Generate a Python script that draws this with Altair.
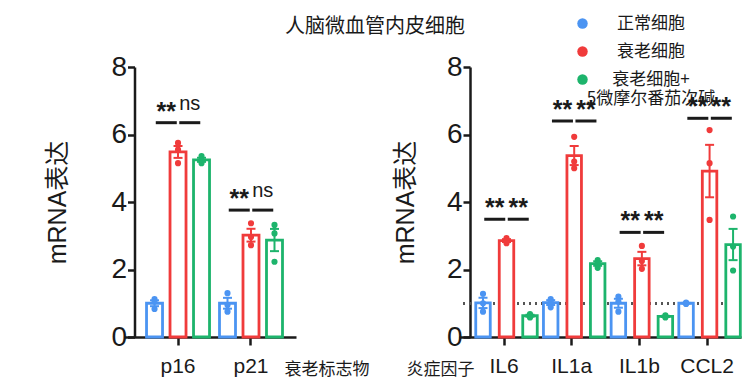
import altair as alt
import pandas as pd

# Treatment groups and their colours
GROUPS = ["正常细胞", "衰老细胞", "衰老细胞+5微摩尔番茄次碱"]
COLORS = ["#4B94F2", "#F03B3B", "#1DB46C"]
# Offset slots inside each gene: bars sit on the group slots,
# comparison bars sit on the in-between slots
SLOTS = [GROUPS[0], "c1", GROUPS[1], "c2", GROUPS[2]]

# Senescence markers (three replicates per group)
markers = ["p16", "p21"]
marker_reps = {
    "p16": [[1.12, 1.05, 0.83], [5.75, 5.55, 5.15], [5.36, 5.24, 5.15]],
    "p21": [[1.30, 0.95, 0.75], [3.37, 2.96, 2.72], [3.32, 3.07, 2.23]],
}
marker_sig_y = [6.35, 3.76]
marker_sig_text = [["**", "ns"], ["**", "ns"]]

# Inflammatory factors (three replicates per group)
cytokines = ["IL6", "IL1a", "IL1b", "CCL2"]
cytokine_reps = {
    "IL6": [[1.28, 1.00, 0.75], [2.93, 2.86, 2.78], [0.68, 0.63, 0.58]],
    "IL1a": [[1.12, 1.06, 0.88], [5.93, 5.20, 5.00], [2.28, 2.20, 2.05]],
    "IL1b": [[1.20, 1.05, 0.75], [2.70, 2.25, 2.02], [0.64, 0.61, 0.58]],
    "CCL2": [[1.02, 1.00, 0.98], [6.13, 5.15, 3.47], [3.57, 2.68, 1.97]],
}
cytokine_sig_y = [3.49, 6.40, 3.10, 6.48]
cytokine_sig_text = [["**", "**"]] * 4

baseline_level = 1.0

LATIN = "Liberation Sans"
CJK = "Noto Sans CJK SC"
MIXED = "Liberation Sans, Noto Sans CJK SC"
INK = "#1a1a1a"


def replicate_frame(genes, reps):
    rows = []
    for g in genes:
        for grp, vals in zip(GROUPS, reps[g]):
            for v in vals:
                rows.append({"gene": g, "group": grp, "value": v})
    return pd.DataFrame(rows)


def sig_frame(genes, levels, texts):
    rows = []
    for g, lvl, pair in zip(genes, levels, texts):
        for slot, t in zip(["c1", "c2"], pair):
            rows.append({"gene": g, "group": slot, "level": lvl, "label": t})
    return pd.DataFrame(rows)


def panel(genes, reps, levels, texts, width, band, yoffset, ytitle_pad,
          side_title, side_x, side_align, bar_w, legend, ref_line):
    data = replicate_frame(genes, reps)
    sig = sig_frame(genes, levels, texts)

    x_axis = alt.Axis(
        title=side_title, titleX=side_x, titleY=32, titleAlign=side_align,
        titleBaseline="middle", titleAngle=0, titleFont=CJK, titleFontSize=17,
        titleFontWeight="normal", titleColor=INK,
        labelAngle=0, labelFont=LATIN, labelFontSize=21, labelColor=INK,
        labelPadding=10, tickSize=8, tickWidth=2.5, tickColor=INK,
        domainWidth=2.5, domainColor=INK, grid=False,
    )
    y_axis = alt.Axis(
        title="mRNA表达", titleFont=MIXED, titleFontSize=25,
        titleFontWeight="normal", titleColor=INK, titlePadding=ytitle_pad,
        values=[0, 2, 4, 6, 8], labelFont=LATIN, labelFontSize=28,
        labelColor=INK, labelPadding=1, tickSize=7, tickWidth=2.5,
        tickColor=INK, domainWidth=2.5, domainColor=INK, grid=False,
        offset=yoffset,
    )
    x = alt.X("gene:N", sort=genes, axis=x_axis,
              scale=alt.Scale(paddingInner=band[0], paddingOuter=band[1], align=band[2]))
    xo = alt.XOffset("group:N", scale=alt.Scale(domain=SLOTS, paddingInner=0, paddingOuter=0))
    yscale = alt.Scale(domain=[0, 8], nice=False)

    def yq(field):
        return alt.Y(field, scale=yscale, axis=y_axis)

    base = alt.Chart(data)
    stats = base.transform_aggregate(
        mean="mean(value)", se="stderr(value)", groupby=["gene", "group"]
    ).transform_calculate(lo="datum.mean - datum.se", hi="datum.mean + datum.se")

    layers = []
    if ref_line:
        layers.append(alt.Chart(data).mark_rule(
            strokeDash=[2, 4], strokeWidth=2, color="#555").encode(
            y=alt.Y(datum=baseline_level, scale=yscale, axis=y_axis)))

    # hollow bars with mean ± SEM whiskers, one colour per group
    for grp, col in zip(GROUPS, COLORS):
        g = stats.transform_filter(alt.datum.group == grp)
        layers.append(g.mark_bar(width=bar_w, fill="white", stroke=col, strokeWidth=2.8).encode(
            x=x, xOffset=xo, y=yq("mean:Q")))
        layers.append(g.mark_rule(strokeWidth=2, color=col).encode(
            x=x, xOffset=xo, y=yq("lo:Q"), y2="hi:Q"))
        layers.append(g.transform_fold(["lo", "hi"], as_=["end", "yv"]).mark_tick(
            size=9, thickness=2, orient="horizontal", color=col, opacity=1).encode(
            x=x, xOffset=xo, y=yq("yv:Q")))

    pts = base.mark_circle(size=38, opacity=1).encode(
        x=x, xOffset=xo, y=yq("value:Q"),
        color=alt.Color("group:N", scale=alt.Scale(domain=GROUPS, range=COLORS), legend=legend))

    sig_base = alt.Chart(sig)
    sig_lines = sig_base.mark_tick(size=21, thickness=3, color=INK, opacity=1,
                                   orient="horizontal").encode(
        x=x, xOffset=xo, y=yq("level:Q"))
    stars = sig_base.transform_filter("datum.label == '**'").mark_text(
        font=LATIN, fontSize=25, fontWeight="bold", color=INK, dy=-11, baseline="middle"
    ).encode(x=x, xOffset=xo, y=yq("level:Q"), text="label:N")
    ns = sig_base.transform_filter("datum.label == 'ns'").mark_text(
        font=LATIN, fontSize=20, color=INK, dy=-19, baseline="middle"
    ).encode(x=x, xOffset=xo, y=yq("level:Q"), text="label:N")

    layers += [pts, sig_lines, stars, ns]
    return alt.layer(*layers).properties(width=width, height=270)


legend = alt.Legend(
    title=None, orient="none", legendX=111, legendY=-56, padding=4,
    symbolType="circle", symbolSize=110, symbolStrokeWidth=0, symbolOpacity=1,
    labelFont=CJK, labelFontSize=17, labelColor=INK, labelAlign="center",
    labelOffset=60, labelLimit=300, rowPadding=10,
    labelExpr="split(replace(datum.label, '+', '+|'), '|')",
)

left = panel(markers, marker_reps, marker_sig_y, marker_sig_text, 172,
             (0.195, 0.276, 0.612), -10.5, 40, "衰老标志物", 160, "left", 16, None, False)
right = panel(cytokines, cytokine_reps, cytokine_sig_y, cytokine_sig_text, 282,
              (0.206, 0.186, 0.72), -11, 28, "炎症因子", 15, "right", 14.5, legend, True)

chart = alt.hconcat(left, right, spacing=163, bounds="flush").resolve_scale(
    x="independent", y="independent", color="independent"
).resolve_legend(color="independent").properties(
    title=alt.TitleParams("人脑微血管内皮细胞", font=CJK, fontSize=20, fontWeight="normal",
                          color=INK, anchor="middle", dx=-19, offset=-26),
    padding={"left": 45, "top": 11, "right": 5, "bottom": 5},
).configure_view(stroke=None)

chart.save("out.html", embed_options={"renderer": "svg", "actions": False})
